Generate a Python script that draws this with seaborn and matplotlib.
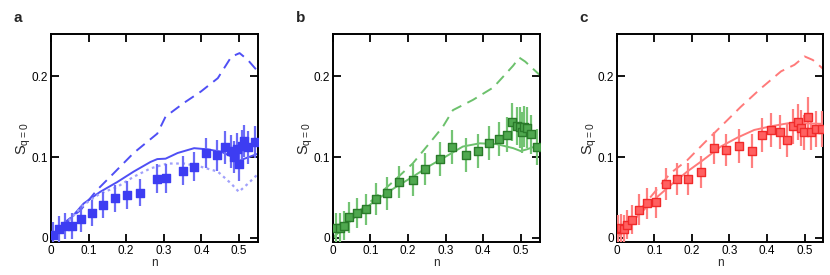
import numpy as np
import pandas as pd
import matplotlib
matplotlib.use("Agg")
import matplotlib.pyplot as plt
import seaborn as sns

sns.set_style("ticks")
plt.rcParams['font.family'] = ['Liberation Sans', 'DejaVu Sans']
plt.rcParams['mathtext.fontset'] = 'custom'
plt.rcParams['mathtext.rm'] = 'Liberation Sans'

# ---------------- Panel a (blue) ----------------
a_n = [0.006, 0.021, 0.0375, 0.057, 0.0795, 0.109, 0.139, 0.171, 0.203, 0.236,
       0.282, 0.305, 0.352, 0.381, 0.4125, 0.441, 0.463, 0.480, 0.488, 0.494,
       0.500, 0.508, 0.515, 0.525, 0.542]
a_s = [0.004, 0.011, 0.015, 0.015, 0.023, 0.031, 0.041, 0.049, 0.053, 0.056,
       0.073, 0.074, 0.083, 0.088, 0.105, 0.102, 0.112, 0.107, 0.100, 0.110,
       0.091, 0.114, 0.120, 0.112, 0.119]
a_err = [0.016, 0.016, 0.016, 0.016, 0.016, 0.016, 0.016, 0.017, 0.017, 0.017,
         0.018, 0.018, 0.018, 0.018, 0.019, 0.019, 0.02, 0.02, 0.02, 0.02,
         0.02, 0.02, 0.02, 0.02, 0.02]
a_dash_n = [0.0, 0.033, 0.078, 0.122, 0.167, 0.22, 0.283, 0.305, 0.354, 0.399,
            0.444, 0.48, 0.502, 0.524, 0.553]
a_dash_s = [0.0, 0.018, 0.034, 0.059, 0.080, 0.105, 0.129, 0.150, 0.167, 0.181,
            0.1975, 0.224, 0.2285, 0.22, 0.2045]
a_sol_n = [0.0, 0.042, 0.087, 0.131, 0.176, 0.22, 0.265, 0.283, 0.305, 0.337,
           0.381, 0.417, 0.453, 0.488, 0.5, 0.515, 0.553]
a_sol_s = [0.0, 0.0186, 0.0426, 0.057, 0.069, 0.082, 0.094, 0.0975, 0.098, 0.105,
           0.111, 0.1095, 0.1066, 0.099, 0.095, 0.098, 0.1045]
a_dot_n = [0.0, 0.042, 0.087, 0.131, 0.176, 0.22, 0.265, 0.31, 0.354, 0.399,
           0.444, 0.48, 0.5, 0.524, 0.553]
a_dot_s = [0.0, 0.0186, 0.041, 0.055, 0.063, 0.0756, 0.086, 0.092, 0.092, 0.088,
           0.082, 0.067, 0.057, 0.067, 0.080]

# ---------------- Panel b (green) ----------------
b_n = [0.009, 0.018, 0.029, 0.043, 0.065, 0.0875, 0.114, 0.144, 0.177, 0.2125,
       0.2446, 0.286, 0.316, 0.354, 0.3875, 0.415, 0.442, 0.4625, 0.478, 0.489,
       0.498, 0.5027, 0.509, 0.516, 0.527, 0.544]
b_s = [0.0124, 0.0124, 0.015, 0.0256, 0.031, 0.0355, 0.048, 0.055, 0.069, 0.072,
       0.0855, 0.097, 0.112, 0.103, 0.107, 0.117, 0.122, 0.1277, 0.1434, 0.1384,
       0.1368, 0.1306, 0.1376, 0.1364, 0.128, 0.1128]
b_err = [0.018, 0.018, 0.018, 0.019, 0.019, 0.019, 0.02, 0.02, 0.02, 0.02,
         0.02, 0.021, 0.021, 0.021, 0.021, 0.021, 0.021, 0.022, 0.024, 0.024,
         0.025, 0.025, 0.025, 0.025, 0.024, 0.022]
b_dash_n = [0.0, 0.03, 0.061, 0.105, 0.159, 0.2125, 0.257, 0.293, 0.3196, 0.373,
            0.427, 0.48, 0.496, 0.512, 0.55]
b_dash_s = [0.0, 0.015, 0.030, 0.0467, 0.069, 0.092, 0.117, 0.1376, 0.158, 0.1707,
            0.186, 0.213, 0.223, 0.218, 0.2017]
b_sol_n = [0.0, 0.03, 0.061, 0.114, 0.168, 0.2125, 0.257, 0.302, 0.346, 0.391,
           0.436, 0.48, 0.5, 0.516, 0.55]
b_sol_s = [0.0, 0.0135, 0.027, 0.0467, 0.063, 0.0756, 0.089, 0.101, 0.113, 0.117,
           0.116, 0.111, 0.1074, 0.1095, 0.115]

# ---------------- Panel c (red) ----------------
c_n = [0.0045, 0.0107, 0.0196, 0.0286, 0.042, 0.06, 0.081, 0.1036, 0.130, 0.160,
       0.191, 0.224, 0.258, 0.292, 0.325, 0.359, 0.386, 0.4116, 0.435, 0.4536,
       0.4696, 0.482, 0.491, 0.498, 0.509, 0.518, 0.531, 0.547]
c_s = [0.0107, 0.012, 0.0107, 0.0165, 0.0227, 0.035, 0.043, 0.044, 0.067, 0.0727,
       0.0727, 0.0814, 0.111, 0.1087, 0.1136, 0.108, 0.127, 0.133, 0.131, 0.121,
       0.138, 0.143, 0.136, 0.1306, 0.150, 0.1306, 0.135, 0.135]
c_err = [0.018, 0.018, 0.018, 0.018, 0.018, 0.019, 0.019, 0.019, 0.02, 0.02,
         0.02, 0.02, 0.02, 0.02, 0.021, 0.021, 0.021, 0.021, 0.021, 0.021,
         0.022, 0.022, 0.022, 0.022, 0.024, 0.022, 0.022, 0.022]
c_dash_n = [0.0, 0.02, 0.0536, 0.098, 0.143, 0.1875, 0.232, 0.277, 0.330, 0.384,
            0.4375, 0.473, 0.5, 0.522, 0.552]
c_dash_s = [0.0, 0.010, 0.030, 0.055, 0.080, 0.096, 0.117, 0.1376, 0.162, 0.185,
            0.206, 0.214, 0.2244, 0.22, 0.208]
c_sol_n = [0.0, 0.009, 0.0536, 0.098, 0.143, 0.1875, 0.232, 0.277, 0.321, 0.366,
           0.41, 0.455, 0.5, 0.552]
c_sol_s = [0.0, 0.005, 0.026, 0.0467, 0.065, 0.082, 0.097, 0.113, 0.124, 0.1335,
           0.138, 0.1417, 0.1417, 0.141]

x_ticks = [0, 0.1, 0.2, 0.3, 0.4, 0.5]
x_ticklabels = ["0", "0.1", "0.2", "0.3", "0.4", "0.5"]
y_ticks = [0, 0.1, 0.2]
y_ticklabels = ["0", "0.1", "0.2"]
panel_letters = ["a", "b", "c"]

fig = plt.figure(figsize=(8.3, 2.75), dpi=100)
lefts = [0.0614, 0.401, 0.743]
axes = [fig.add_axes([l, 0.12, 0.249, 0.756]) for l in lefts]

panels = [
    dict(n=a_n, s=a_s, err=a_err,
         lines=[(a_dash_n, a_dash_s, '#4f4ff5', (5.5, 3.5), 1.4),
                (a_sol_n, a_sol_s, '#4f4ff5', None, 1.4),
                (a_dot_n, a_dot_s, '#a0a0fb', (1.2, 1.6), 1.6)],
         mface='#3d3df2', medge='#3d3df2', ecol='#6b6bf7'),
    dict(n=b_n, s=b_s, err=b_err,
         lines=[(b_dash_n, b_dash_s, '#6cc16c', (5.5, 3.5), 1.4),
                (b_sol_n, b_sol_s, '#6cc16c', None, 1.4)],
         mface='#4fa84f', medge='#2a7a2a', ecol='#74c474'),
    dict(n=c_n, s=c_s, err=c_err,
         lines=[(c_dash_n, c_dash_s, '#ff7a7a', (5.5, 3.5), 1.4),
                (c_sol_n, c_sol_s, '#ff7a7a', None, 1.4)],
         mface='#ff6060', medge='#f02a2a', ecol='#ff8080'),
]

for ax, p, letter in zip(axes, panels, panel_letters):
    for ln, ls, col, dash, lw in p['lines']:
        df = pd.DataFrame({'n': ln, 's': ls})
        sns.lineplot(data=df, x='n', y='s', ax=ax, color=col, lw=lw,
                     sort=False, estimator=None, zorder=2)
        line = ax.lines[-1]
        if dash is not None:
            line.set_dashes(dash)
    ax.errorbar(p['n'], p['s'], yerr=p['err'], fmt='none', ecolor=p['ecol'],
                elinewidth=1.6, capsize=0, zorder=3)
    dfm = pd.DataFrame({'n': p['n'], 's': p['s']})
    sns.scatterplot(data=dfm, x='n', y='s', ax=ax, marker='s', s=30,
                    color=p['mface'], edgecolor=p['medge'], linewidth=1.0,
                    zorder=4)
    ax.set_xlim(0, 0.55)
    ax.set_ylim(-0.005, 0.252)
    ax.set_xticks(x_ticks)
    ax.set_xticklabels(x_ticklabels)
    ax.set_yticks(y_ticks)
    ax.set_yticklabels(y_ticklabels)
    ax.tick_params(direction='in', length=6, width=1.3, top=True, right=True,
                   labelsize=8.5, pad=2, colors='black')
    for sp in ax.spines.values():
        sp.set_visible(True)
        sp.set_linewidth(1.4)
        sp.set_color('black')
    ax.set_xlabel('n', fontsize=8.5, labelpad=0)
    ax.set_ylabel(r'S$_{\mathregular{q=0}}$', fontsize=10.5)
    ax.yaxis.set_label_coords(-0.085, 0.5)
    bb = ax.get_position()
    fig.text(bb.x0 - 0.045, 0.935, letter, fontsize=11, fontweight='bold',
             ha='left', va='center')

fig.savefig('out.png', dpi=100)
